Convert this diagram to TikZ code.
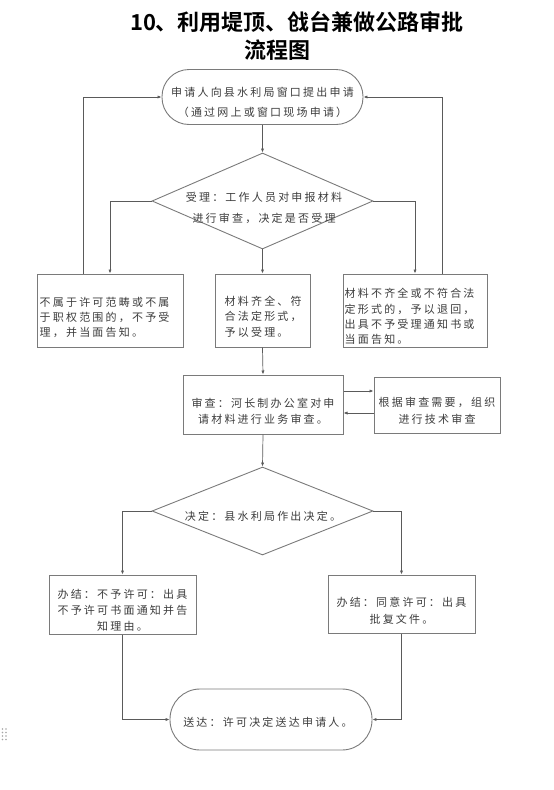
\documentclass[tikz,border=0pt]{standalone}
\usepackage{fontspec}
\usetikzlibrary{shapes.geometric,arrows.meta}
\newfontfamily\cjk[LetterSpace=20]{Noto Sans CJK SC}
\newfontfamily\cjktitle{Noto Sans CJK SC}[BoldFont=* Bold]
\definecolor{edge}{HTML}{7A7A7A}
\definecolor{wire}{HTML}{5A5A5A}
\definecolor{txt}{HTML}{3C3C3C}
\tikzset{
  box/.style={draw=edge, line width=1pt, minimum width=#1, inner sep=0pt, rectangle},
  stadium/.style={draw=edge, line width=0.9pt, rectangle, rounded corners=27pt, inner sep=0pt},
  decision/.style={draw=edge, line width=0.9pt, diamond, inner sep=0pt},
  body/.style={text=txt, inner sep=0pt, font=\cjk\fontsize{11}{15.3}\selectfont},
  wireline/.style={draw=wire, line width=0.7pt},
  arr/.style={wireline, -{Latex[length=4pt,width=3.2pt]}},
}
\begin{document}
\begin{tikzpicture}[x=1pt,y=-1pt]
\useasboundingbox (0,0) rectangle (554,790);
% title
\node[font=\cjktitle\bfseries\fontsize{22}{26}\selectfont] (t1) at (297,22) {10、利用堤顶、戗台兼做公路审批};
\node[font=\cjktitle\bfseries\fontsize{22}{26}\selectfont] (t2) at (277,50) {流程图};
% start
\node[stadium, minimum width=201pt, minimum height=55pt] (start) at (262.5,97) {};
\node[body, align=center, font=\cjk\fontsize{11}{19.5}\selectfont] (startt) at ([yshift=-5.5pt]start) {申请人向县水利局窗口提出申请\\（通过网上或窗口现场申请）};
% decision 1
\node[decision, minimum width=221pt, minimum height=96pt] (d1) at (262.5,201) {};
\node[body, align=center, font=\cjk\fontsize{11}{20.5}\selectfont] (d1t) at (264,208) {受理：工作人员对申报材料\\进行审查，决定是否受理};
% three boxes
\node[box=146pt, minimum height=73pt] (b1) at (110,310.5) {};
\node[body, align=left, anchor=west] (b1t) at ([xshift=3pt,yshift=-7pt]b1.west) {不属于许可范畴或不属\\于职权范围的，不予受\\理，并当面告知。};
\node[box=95pt, minimum height=73pt] (b2) at (262.5,310.5) {};
\node[body, align=left, anchor=west] (b2t) at ([xshift=10pt,yshift=-6pt]b2.west) {材料齐全、符\\合法定形式，\\予以受理。};
\node[box=144pt, minimum height=73pt] (b3) at (415,310.5) {};
\node[body, align=left, anchor=west] (b3t) at ([xshift=2pt,yshift=-6pt]b3.west) {材料不齐全或不符合法\\定形式的，予以退回，\\出具不予受理通知书或\\当面告知。};
% review
\node[box=160pt, minimum height=59pt] (rev) at (263,404.5) {};
\node[body, align=center, font=\cjk\fontsize{11}{16.5}\selectfont] (revt) at ([yshift=-7pt]rev) {审查：河长制办公室对申\\请材料进行业务审查。};
\node[box=126pt, minimum height=56pt] (tech) at (437,405) {};
\node[body, align=center, font=\cjk\fontsize{11}{16.5}\selectfont] (techt) at ([yshift=-6pt]tech) {根据审查需要，组织\\进行技术审查};
% decision 2
\node[decision, minimum width=221pt, minimum height=88pt] (d2) at (262.5,511) {};
\node[body] (d2t) at (263,516.5) {决定：县水利局作出决定。};
% results
\node[box=147pt, minimum height=59pt] (r1) at (122.5,604.5) {};
\node[body, align=center, font=\cjk\fontsize{11}{15.8}\selectfont] (r1t) at ([yshift=-6pt]r1) {办结：不予许可：出具\\不予许可书面通知并告\\知理由。};
\node[box=147pt, minimum height=58pt] (r2) at (401.5,604) {};
\node[body, align=center, font=\cjk\fontsize{11}{16.5}\selectfont] (r2t) at ([yshift=-7pt]r2) {办结：同意许可：出具\\批复文件。};
% end
\node[stadium, minimum width=202pt, minimum height=61pt, rounded corners=30pt] (end) at (271,719.5) {};
\node[body] (endt) at (268,722.5) {送达：许可决定送达申请人。};
% connectors
\draw[arr] (start.south) -- (d1.north);
\draw[arr] (d1.west) -| (b1.north);
\draw[arr] (d1.south) -- (b2.north);
\draw[arr] (d1.east) -| (b3.north);
\draw[arr] ([xshift=-27pt]b1.north) |- (start.west);
\draw[arr] ([xshift=27pt]b3.north) |- (start.east);
\draw[arr] (b2.south) -- (rev.north);
\coordinate (ra) at ([yshift=13.5pt]rev.east);
\coordinate (rb) at ([yshift=-8.5pt]rev.east);
\draw[arr] (ra) -- (tech.west |- ra);
\draw[arr] (tech.west |- rb) -- (rb);
\draw[arr] (rev.south) -- (d2.north);
\draw[arr] (d2.west) -| (r1.north);
\draw[arr] (d2.east) -| (r2.north);
\draw[arr] (r1.south) |- (end.west);
\draw[arr] (r2.south) |- (end.east);
% small handle mark
\foreach \i in {0,1} \foreach \j in {0,1,2,3}
  \fill[gray!70] (2.5+3.5*\i,729+3.5*\j) circle (0.9pt);
\end{tikzpicture}
\end{document}
